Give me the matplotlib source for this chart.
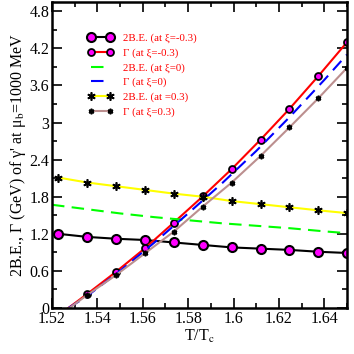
import numpy as np
import matplotlib
matplotlib.use("Agg")
import matplotlib.pyplot as plt
from matplotlib.ticker import MultipleLocator, FixedFormatter, FixedLocator

# === Data ===
t = [1.5228, 1.5355, 1.5483, 1.5610, 1.5737, 1.5864, 1.5992, 1.6119, 1.6246, 1.6373, 1.6500]
be_m03 = [1.20, 1.15, 1.12, 1.10, 1.06, 1.02, 0.98, 0.96, 0.94, 0.91, 0.89]
gam_m03 = [-0.12, 0.227, 0.588, 0.968, 1.383, 1.804, 2.248, 2.723, 3.22, 3.749, 4.30]
be_p03 = [2.11, 2.03, 1.97, 1.91, 1.85, 1.80, 1.73, 1.68, 1.63, 1.58, 1.535]
gam_p03 = [-0.13, 0.21, 0.535, 0.886, 1.237, 1.64, 2.03, 2.46, 2.92, 3.39, 3.885]

t0 = [1.52, 1.535, 1.55, 1.565, 1.58, 1.595, 1.61, 1.625, 1.64, 1.65]
be_0 = [1.67, 1.60, 1.53, 1.47, 1.42, 1.37, 1.33, 1.29, 1.24, 1.21]
gam_0 = [-0.17, 0.18, 0.60, 1.055, 1.53, 2.02, 2.54, 3.10, 3.69, 4.10]

labels = ["2B.E. (at \u03be=-0.3)", "\u0393 (at \u03be=-0.3)", "2B.E. (at \u03be=0)",
          "\u0393 (at \u03be=0)", "2B.E. (at =0.3)", "\u0393 (at \u03be=0.3)"]
xticks = [1.52, 1.54, 1.56, 1.58, 1.60, 1.62, 1.64]
xticklabels = ["1.52", "1.54", "1.56", "1.58", "1.6", "1.62", "1.64"]
yticks = [0, 0.6, 1.2, 1.8, 2.4, 3.0, 3.6, 4.2, 4.8]
yticklabels = ["0", "0.6", "1.2", "1.8", "2.4", "3", "3.6", "4.2", "4.8"]

# === Style ===
plt.rcParams["font.family"] = ["Liberation Serif", "DejaVu Serif"]
plt.rcParams["mathtext.fontset"] = "stix"

fig = plt.figure(figsize=(3.54, 3.54), dpi=100)
ax = fig.add_axes([52 / 354, 46 / 354, 295 / 354, 306 / 354])

ax.plot(t, be_m03, color="black", lw=1.5, marker="o", ms=6.5, mfc="#ff00ff",
        mec="black", mew=1.5, label=labels[0])
ax.plot(t, gam_m03, color="red", lw=1.5, marker="o", ms=5, mfc="#ff00ff",
        mec="black", mew=1.3, label=labels[1])
ax.plot(t0, be_0, color="#00ff00", lw=1.5, ls=(0, (6, 3.5)), label=labels[2])
ax.plot(t0, gam_0, color="#0000ff", lw=1.5, ls=(0, (6, 3.5)), label=labels[3])
ax.plot(t, be_p03, color="#ffff00", lw=1.5, marker=(6, 2, 0), ms=6, mec="black",
        mew=1.2, label=labels[4])
ax.plot(t, gam_p03, color="#bc8f8f", lw=1.5, marker=(6, 2, 0), ms=4, mec="black",
        mew=1.2, label=labels[5])

ax.set_xlim(1.52, 1.65)
ax.set_ylim(0, 4.95)
ax.xaxis.set_major_locator(FixedLocator(xticks))
ax.xaxis.set_major_formatter(FixedFormatter(xticklabels))
ax.xaxis.set_minor_locator(MultipleLocator(0.01))
ax.yaxis.set_major_locator(FixedLocator(yticks))
ax.yaxis.set_major_formatter(FixedFormatter(yticklabels))
ax.yaxis.set_minor_locator(MultipleLocator(0.3))
ax.tick_params(which="both", direction="in", top=True, right=True, width=1.2,
               labelsize=11.5, pad=2)
ax.tick_params(which="major", length=7)
ax.tick_params(which="minor", length=3.5)
for s in ax.spines.values():
    s.set_linewidth(1.8)

ax.set_xlabel("T/T$_{\\rm c}$", fontsize=11.5, labelpad=1)
ax.set_ylabel("2B.E., \u0393 (GeV) of \u03b3' at \u03bc$_{\\rm b}$=1000 MeV",
              fontsize=11.5, labelpad=1)

ax.legend(loc="upper left", bbox_to_anchor=(0.122, 0.898), frameon=False,
          fontsize=7.8, labelcolor="red", numpoints=2, handlelength=2.3,
          handletextpad=0.9, labelspacing=0.45, borderpad=0, borderaxespad=0)

fig.savefig("out.png", dpi=100)
